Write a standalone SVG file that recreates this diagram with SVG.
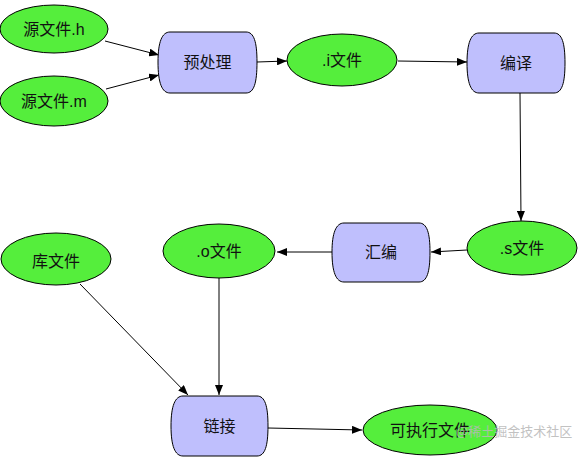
<svg xmlns="http://www.w3.org/2000/svg" width="579" height="457" viewBox="0 0 579 457">
<defs>
<style>
.ell{fill:#55ee3c;stroke:#000;stroke-width:1}
.box{fill:#bfbffd;stroke:#000;stroke-width:1}
.t{font-family:"Liberation Sans","Noto Sans CJK SC",sans-serif;font-size:16px;fill:#111;text-anchor:middle;dominant-baseline:central}
.c{stroke:#000;stroke-width:1;fill:none;marker-end:url(#ah)}
.wm{font-family:"Noto Sans CJK SC",sans-serif;font-size:13px;fill:#b8b8b8;opacity:0.85}
</style>
<marker id="ah" markerWidth="10" markerHeight="8" refX="10" refY="4" orient="auto" markerUnits="userSpaceOnUse">
<path d="M0,0 L10,4 L0,8 Z" fill="#000"/>
</marker>
</defs>
<rect width="579" height="457" fill="#fff"/>
<g id="connectors">
<line class="c" x1="105" y1="41" x2="159" y2="55"/>
<line class="c" x1="106" y1="89" x2="159" y2="75"/>
<line class="c" x1="257" y1="62" x2="287" y2="61"/>
<line class="c" x1="398" y1="61" x2="467" y2="62"/>
<line class="c" x1="520" y1="93" x2="521" y2="221"/>
<line class="c" x1="467" y1="250" x2="431" y2="252"/>
<line class="c" x1="332" y1="252" x2="277" y2="252"/>
<line class="c" x1="219" y1="278" x2="219" y2="395"/>
<line class="c" x1="80" y1="284" x2="188" y2="395"/>
<line class="c" x1="268" y1="428" x2="362" y2="430"/>
</g>
<g id="src_h"><ellipse class="ell" cx="54" cy="29" rx="54" ry="24"/><text class="t" x="54" y="29">源文件.h</text></g>
<g id="src_m"><ellipse class="ell" cx="54" cy="101" rx="54" ry="25"/><text class="t" x="54" y="101">源文件.m</text></g>
<g id="preprocess"><path class="box" d="M170,32 H246 C254,32 257,42 257,62 C257,83 254,93 246,93 H170 C162,93 158,83 158,62 C158,42 162,32 170,32 Z"/><text class="t" x="207.5" y="62">预处理</text></g>
<g id="i_file"><ellipse class="ell" cx="342" cy="60" rx="55" ry="26"/><text class="t" x="342" y="60">.i文件</text></g>
<g id="compile"><path class="box" d="M479,33 H554 C562,33 565,43 565,63 C565,83 562,93 554,93 H479 C471,93 467,83 467,63 C467,43 471,33 479,33 Z"/><text class="t" x="516" y="63">编译</text></g>
<g id="s_file"><ellipse class="ell" cx="522" cy="248" rx="55" ry="27"/><text class="t" x="522" y="248">.s文件</text></g>
<g id="assemble"><path class="box" d="M344,223 H419 C427,223 430,233 430,252 C430,272 427,282 419,282 H344 C336,282 332,272 332,252 C332,233 336,223 344,223 Z"/><text class="t" x="381" y="252">汇编</text></g>
<g id="o_file"><ellipse class="ell" cx="219" cy="251" rx="56" ry="27"/><text class="t" x="219" y="251">.o文件</text></g>
<g id="lib"><ellipse class="ell" cx="56" cy="259" rx="55" ry="26"/><text class="t" x="56" y="261">库文件</text></g>
<g id="link"><path class="box" d="M183,396 H257 C265,396 268,406 268,426 C268,446 265,456 257,456 H183 C175,456 171,446 171,426 C171,406 175,396 183,396 Z"/><text class="t" x="219.5" y="426">链接</text></g>
<g id="exe"><ellipse class="ell" cx="430" cy="430" rx="67" ry="25"/><text class="t" x="430" y="430">可执行文件</text></g>
<text class="wm" x="456" y="436">@稀土掘金技术社区</text>
</svg>
